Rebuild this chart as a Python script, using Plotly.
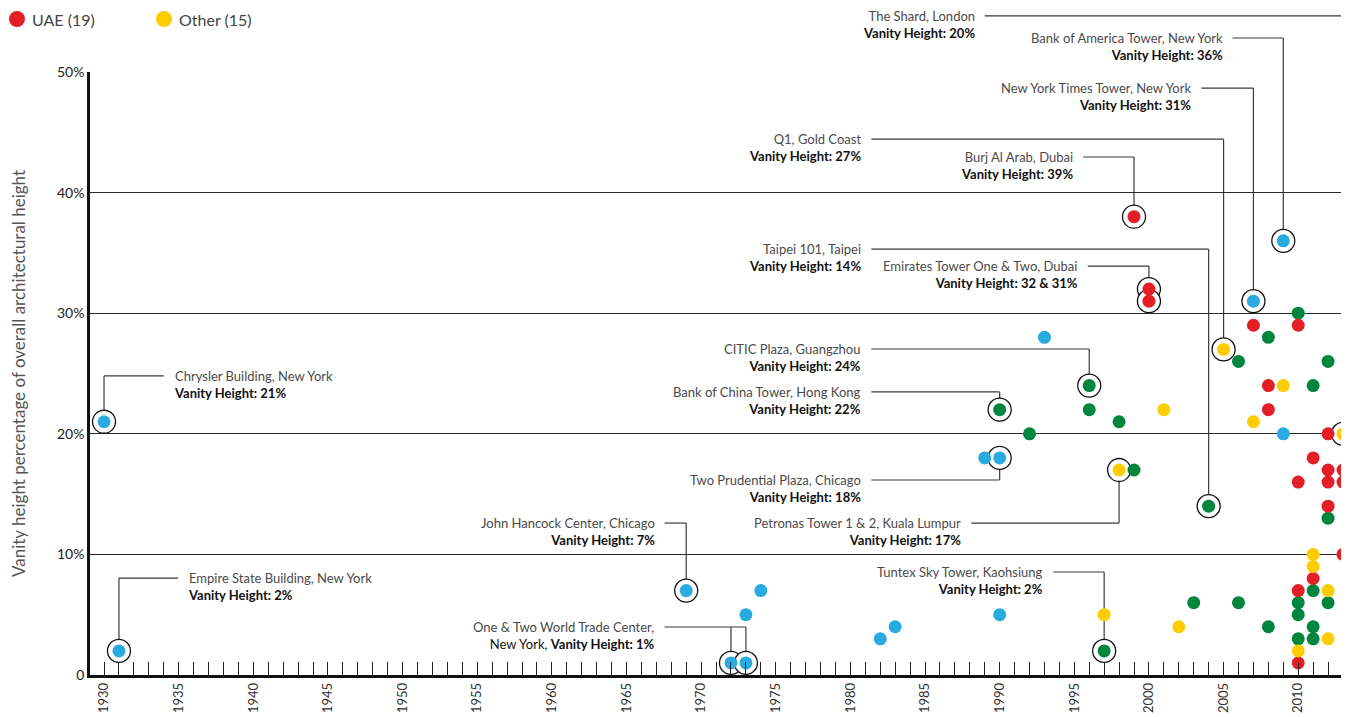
import plotly.graph_objects as go

# ---------------- data ----------------
blue_x = [1930, 1931, 1969, 1972, 1973, 1973, 1974, 1982, 1983, 1989, 1990, 1990, 1993, 2007, 2009, 2009]
blue_y = [21, 2, 7, 1, 1, 5, 7, 3, 4, 18, 18, 5, 28, 31, 36, 20]

green_x = [1990, 1992, 1996, 1996, 1997, 1998, 1999, 2003, 2004, 2006, 2006, 2008, 2008,
           2010, 2010, 2010, 2010, 2011, 2011, 2011, 2011, 2012, 2012, 2012]
green_y = [22, 20, 24, 22, 2, 21, 17, 6, 14, 26, 6, 28, 4,
           30, 6, 5, 3, 24, 7, 4, 3, 26, 13, 6]

red_x = [1999, 2000, 2000, 2007, 2008, 2008, 2010, 2010, 2010, 2010, 2011, 2011,
         2012, 2012, 2012, 2012, 2013, 2013, 2013]
red_y = [38, 32, 31, 29, 24, 22, 29, 16, 7, 1, 18, 8, 20, 17, 16, 14, 17, 16, 10]

yellow_x = [1997, 1998, 2001, 2002, 2005, 2007, 2009, 2010, 2011, 2011, 2012, 2012, 2013]
yellow_y = [5, 17, 22, 4, 27, 21, 24, 2, 10, 9, 7, 3, 20]

legend_names = ["UAE (19)", "Other (15)"]

# callouts: (line1, line2, points, label_y, label_x, side)
callouts = [
    ("Chrysler Building, New York", "<b>Vanity Height: 21%</b>", [(1930, 21)], 24.8, 1934.0, "right"),
    ("Empire State Building, New York", "<b>Vanity Height: 2%</b>", [(1931, 2)], 8.04, 1934.95, "right"),
    ("John Hancock Center, Chicago", "<b>Vanity Height: 7%</b>", [(1969, 7)], 12.6, 1967.55, "left"),
    ("One & Two World Trade Center,", "New York, <b>Vanity Height: 1%</b>", [(1972, 1), (1973, 1)], 3.98, 1967.55, "left"),
    ("Tuntex Sky Tower, Kaohsiung", "<b>Vanity Height: 2%</b>", [(1997, 2)], 8.54, 1993.6, "left"),
    ("Two Prudential Plaza, Chicago", "<b>Vanity Height: 18%</b>", [(1990, 18)], 16.17, 1981.4, "left"),
    ("Petronas Tower 1 & 2, Kuala Lumpur", "<b>Vanity Height: 17%</b>", [(1998, 17)], 12.6, 1988.1, "left"),
    ("Bank of China Tower, Hong Kong", "<b>Vanity Height: 22%</b>", [(1990, 22)], 23.47, 1981.4, "left"),
    ("CITIC Plaza, Guangzhou", "<b>Vanity Height: 24%</b>", [(1996, 24)], 27.03, 1981.4, "left"),
    ("Taipei 101, Taipei", "<b>Vanity Height: 14%</b>", [(2004, 14)], 35.32, 1981.4, "left"),
    ("Emirates Tower One & Two, Dubai", "<b>Vanity Height: 32 & 31%</b>", [(2000, 32), (2000, 31)], 33.91, 1995.9, "left"),
    ("Burj Al Arab, Dubai", "<b>Vanity Height: 39%</b>", [(1999, 38)], 42.95, 1995.6, "left"),
    ("Q1, Gold Coast", "<b>Vanity Height: 27%</b>", [(2005, 27)], 44.44, 1981.4, "left"),
    ("New York Times Tower, New York", "<b>Vanity Height: 31%</b>", [(2007, 31)], 48.67, 2003.5, "left"),
    ("Bank of America Tower, New York", "<b>Vanity Height: 36%</b>", [(2009, 36)], 52.82, 2005.6, "left"),
    ("The Shard, London", "<b>Vanity Height: 20%</b>", [(2013, 20)], 54.65, 1989.0, "left"),
]

# ---------------- style ----------------
RED = "#E31E26"
YELLOW = "#FFCC00"
BLUE = "#29ABE2"
GREEN = "#00853F"
FONT = "Lato"
XR = [1929.06, 2013.0]
YR = [0, 50]
OFF = 8  # page body margin
W, H = 1349 - OFF, 717 - OFF
ML, MR, MT, MB = 90 - OFF, 6, 72 - OFF, 42
PW, PH = W - ML - MR, H - MT - MB

def px(x):
    return (x - XR[0]) / (XR[1] - XR[0])

def py(y):
    return (y - YR[0]) / (YR[1] - YR[0])

fig = go.Figure()

ring_x = [p[0] for c in callouts for p in c[2]]
ring_y = [p[1] for c in callouts for p in c[2]]
fig.add_trace(go.Scatter(
    x=ring_x, y=ring_y, mode="markers", showlegend=False, hoverinfo="skip",
    marker=dict(size=23, color="white", line=dict(color="#111", width=1.3)),
    cliponaxis=False))

def dots(x, y, color, name):
    fig.add_trace(go.Scatter(
        x=x, y=y, mode="markers", name=name, showlegend=False,
        marker=dict(size=13, color=color, line=dict(width=0)),
        cliponaxis=False))

dots(blue_x, blue_y, BLUE, "blue")
dots(green_x, green_y, GREEN, "green")
dots(red_x, red_y, RED, legend_names[0])
dots(yellow_x, yellow_y, YELLOW, legend_names[1])

shapes = []
annotations = []
LC = "#3a3a3a"
for l1, l2, pts, ly, lx, side in callouts:
    xs = [p[0] for p in pts]
    far = max(xs) if side == "left" else min(xs)
    shapes.append(dict(type="line", xref="paper", yref="paper",
                       x0=px(lx), x1=px(far), y0=py(ly), y1=py(ly),
                       line=dict(color=LC, width=1.2), layer="below"))
    seen = {}
    for (x, y) in pts:
        if x not in seen or abs(y - ly) < abs(seen[x] - ly):
            seen[x] = y
    for x, y in seen.items():
        shapes.append(dict(type="line", xref="paper", yref="paper",
                           x0=px(x), x1=px(x), y0=py(ly), y1=py(y),
                           line=dict(color=LC, width=1.2), layer="below"))
    annotations.append(dict(
        x=px(lx), y=py(ly), xref="paper", yref="paper", showarrow=False,
        text=f"<span style='color:#4a4a4a'>{l1}</span><br><span style='color:#111'>{l2}</span>",
        xanchor="right" if side == "left" else "left",
        xshift=-8 if side == "left" else 8,
        yanchor="middle", yshift=-8.5,
        align="right" if side == "left" else "left",
        font=dict(family=FONT, size=13, color="#4a4a4a")))

# manual legend (top-left), positions in page pixels
leg_items = [(legend_names[0], RED, 17), (legend_names[1], YELLOW, 164)]
for name, col, cx in leg_items:
    xp = (cx - OFF - ML) / PW
    yp = 1 + (MT - (19 - OFF)) / PH
    shapes.append(dict(type="circle", xref="paper", yref="paper",
                       xsizemode="pixel", ysizemode="pixel", xanchor=xp, yanchor=yp,
                       x0=-8, x1=8, y0=-8, y1=8, fillcolor=col, line=dict(width=0)))
    annotations.append(dict(x=xp, y=yp, xref="paper", yref="paper", showarrow=False,
                            text=name, xanchor="left", yanchor="middle", xshift=13,
                            font=dict(family=FONT, size=16, color="#444")))

fig.update_layout(
    width=W, height=H,
    margin=dict(l=ML, r=MR, t=MT, b=MB),
    paper_bgcolor="white", plot_bgcolor="rgba(0,0,0,0)",
    font=dict(family=FONT, color="#333"),
    shapes=shapes, annotations=annotations,
    showlegend=False,
    xaxis=dict(range=XR, showgrid=False, zeroline=False, automargin=False,
               showline=True, linecolor="#111", linewidth=2.5,
               tick0=1930, dtick=5, ticks="inside", ticklen=13, tickwidth=1.4, tickcolor="#222",
               tickangle=-90, tickfont=dict(family=FONT, size=13, color="#333"),
               minor=dict(dtick=1, tick0=1930, ticks="inside", ticklen=13, tickwidth=1.4,
                          tickcolor="#222", showgrid=False)),
    yaxis=dict(range=YR, showgrid=True, gridcolor="#2a2a2a", gridwidth=1.1, automargin=False,
               zeroline=False, showline=True, linecolor="#111", linewidth=2.5,
               tickvals=[0, 10, 20, 30, 40, 50],
               ticktext=["0", "10%", "20%", "30%", "40%", "50%"],
               ticks="", tickfont=dict(family=FONT, size=14, color="#222"),
               title=dict(text="Vanity height percentage of overall architectural height",
                          font=dict(family=FONT, size=17, color="#555"), standoff=29)),
)

fig.write_html("out.html")
